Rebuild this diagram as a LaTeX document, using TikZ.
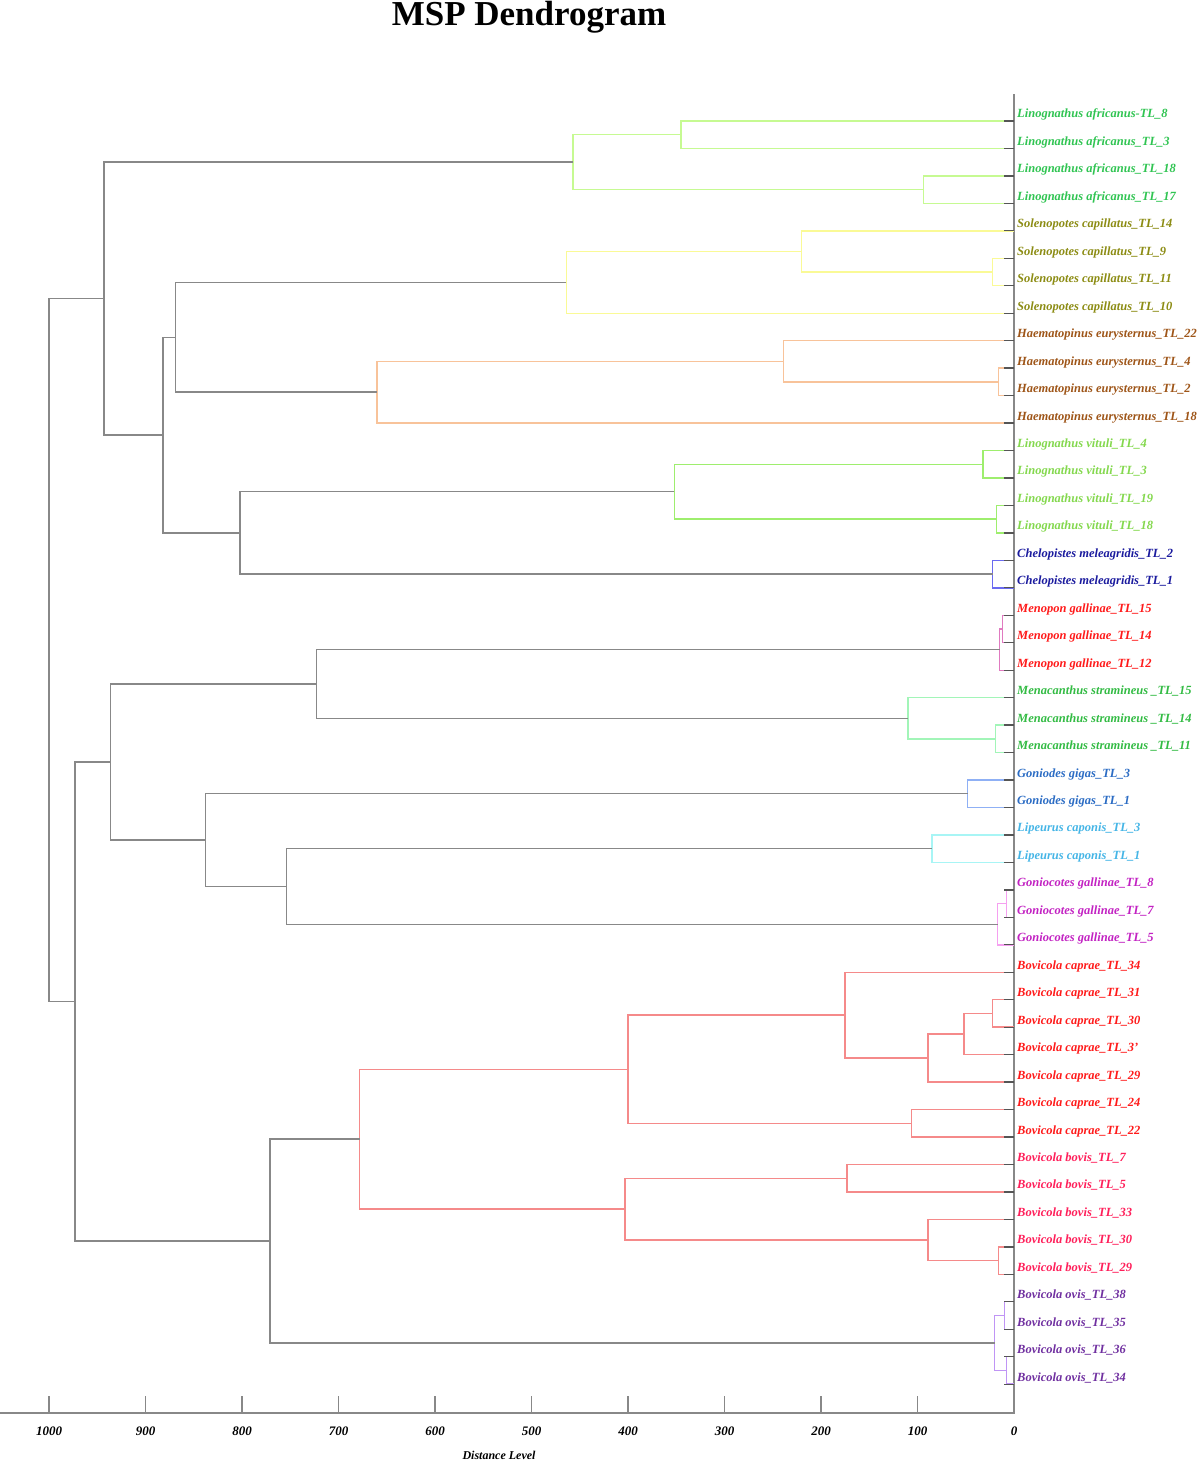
\documentclass[tikz,border=0pt]{standalone}
\usepackage{fontspec}
\setmainfont{Liberation Serif}

\definecolor{linkgrey}{HTML}{888888}
\definecolor{tickgrey}{HTML}{555555}
\definecolor{brAfr}{HTML}{C6FA92}
\definecolor{txAfr}{HTML}{30C452}
\definecolor{brSol}{HTML}{FAFA96}
\definecolor{txSol}{HTML}{8C8C14}
\definecolor{brHae}{HTML}{F8C39A}
\definecolor{txHae}{HTML}{9E5518}
\definecolor{brVit}{HTML}{9EEE6E}
\definecolor{txVit}{HTML}{84D84E}
\definecolor{brChe}{HTML}{6A6AF0}
\definecolor{txChe}{HTML}{1B1B9E}
\definecolor{brMpn}{HTML}{E07AC0}
\definecolor{txMpn}{HTML}{FF1A1A}
\definecolor{brMcn}{HTML}{A2F5B8}
\definecolor{txMcn}{HTML}{33BB44}
\definecolor{brGgi}{HTML}{8FB0F5}
\definecolor{txGgi}{HTML}{2B6CC4}
\definecolor{brLca}{HTML}{A8F5F5}
\definecolor{txLca}{HTML}{45B5E6}
\definecolor{brGco}{HTML}{F5A0F0}
\definecolor{txGco}{HTML}{C222C2}
\definecolor{brBov}{HTML}{F58A8A}
\definecolor{txBca}{HTML}{FF1A1A}
\definecolor{txBbo}{HTML}{FF1F5A}
\definecolor{brOvi}{HTML}{C095F5}
\definecolor{txOvi}{HTML}{7030A0}

\tikzset{
	branch/.style={draw=#1, line width=1.4pt},
	link/.style={branch=linkgrey},
	leaftick/.style={draw=tickgrey, line width=1.3pt, yshift=-0.7pt},
	axisline/.style={draw=linkgrey, line width=1.3pt},
	leaflab/.style={anchor=base west, inner sep=0pt, xshift=3pt, yshift=3pt,
		font=\fontsize{12.5}{15}\selectfont\bfseries\itshape},
	ticklab/.style={inner sep=0pt, font=\fontsize{13}{15}\selectfont\bfseries\itshape},
	axislab/.style={inner sep=0pt, font=\fontsize{12}{14}\selectfont\bfseries\itshape},
	titlelab/.style={anchor=base, inner sep=0pt, font=\fontsize{35}{40}\selectfont\bfseries}
}

\begin{document}
\begin{tikzpicture}[x=1pt,y=-1pt]
	\useasboundingbox (0,0) rectangle (1200,1461);
	\node[titlelab] (title) at (529,26) {MSP Dendrogram};
	
	% distance axis
	\draw[axisline] (0,1413) -- (1014,1413) -- (1014,94);
	\foreach \d in {100,200,...,1000} \draw[axisline] ({1014-0.965*\d},1413) -- ++(0,-17);
	\foreach \d in {0,100,...,1000} \node[ticklab] (tick\d) at ({1014-0.965*\d},1431) {\d};
	\node[axislab] (axtitle) at (499,1455) {Distance Level};
	
	\begin{scope}[shift={(1014,121)}, x=-0.965pt, y=-27.46pt]
	\foreach \i in {0,...,46} \coordinate (l\i) at (0,\i);
	
	% merge points (distance, mean leaf row)
	\coordinate (afr1) at (345,0.5);
	\coordinate (afr2) at (94,2.5);
	\coordinate (afrR) at (457,1.5);
	\coordinate (sol1) at (22,5.5);
	\coordinate (sol2) at (220,4.75);
	\coordinate (solR) at (464,5.875);
	\coordinate (hae1) at (16,9.5);
	\coordinate (hae2) at (239,8.75);
	\coordinate (haeR) at (660,9.875);
	\coordinate (vit1) at (32,12.5);
	\coordinate (vit2) at (18,14.5);
	\coordinate (vitR) at (352,13.5);
	\coordinate (cheR) at (22,16.5);
	\coordinate (mpn1) at (12,18.5);
	\coordinate (mpnR) at (15,19.25);
	\coordinate (mcn1) at (19,22.5);
	\coordinate (mcnR) at (110,21.75);
	\coordinate (ggiR) at (48,24.5);
	\coordinate (lcaR) at (85,26.5);
	\coordinate (gco1) at (8,28.5);
	\coordinate (gcoR) at (17,29.25);
	\coordinate (bca1) at (22,32.5);
	\coordinate (bca2) at (52,33.25);
	\coordinate (bca3) at (89,34.125);
	\coordinate (bca4) at (175,32.5625);
	\coordinate (bca5) at (106,36.5);
	\coordinate (bcaR) at (400,34.53125);
	\coordinate (bbo1) at (173,38.5);
	\coordinate (bbo2) at (16,41.5);
	\coordinate (bbo3) at (89,40.75);
	\coordinate (bboR) at (403,39.625);
	\coordinate (bovR) at (678,37.078);
	\coordinate (ovi1) at (10,43.5);
	\coordinate (ovi2) at (8,45.5);
	\coordinate (oviR) at (20,44.5);
	% joins between groups
	\coordinate (j1) at (869,7.875);
	\coordinate (j2) at (802,15);
	\coordinate (j3) at (882,11.4375);
	\coordinate (j4) at (943,6.46875);
	\coordinate (j5) at (723,20.5);
	\coordinate (j6) at (754,27.875);
	\coordinate (j7) at (838,26.1875);
	\coordinate (j8) at (936,23.34375);
	\coordinate (j9) at (771,40.789);
	\coordinate (j10) at (973,32.066);
	\coordinate (root) at (1000,19.267);
	
	% coloured groups
	\draw[branch=brAfr] (l0) -| (afr1) |- (l1);
	\draw[branch=brAfr] (l2) -| (afr2) |- (l3);
	\draw[branch=brAfr] (afr1) -| (afrR) |- (afr2);
	\draw[branch=brSol] (l5) -| (sol1) |- (l6);
	\draw[branch=brSol] (l4) -| (sol2) |- (sol1);
	\draw[branch=brSol] (sol2) -| (solR) |- (l7);
	\draw[branch=brHae] (l9) -| (hae1) |- (l10);
	\draw[branch=brHae] (l8) -| (hae2) |- (hae1);
	\draw[branch=brHae] (hae2) -| (haeR) |- (l11);
	\draw[branch=brVit] (l12) -| (vit1) |- (l13);
	\draw[branch=brVit] (l14) -| (vit2) |- (l15);
	\draw[branch=brVit] (vit1) -| (vitR) |- (vit2);
	\draw[branch=brChe] (l16) -| (cheR) |- (l17);
	\draw[branch=brMpn] (l18) -| (mpn1) |- (l19);
	\draw[branch=brMpn] (mpn1) -| (mpnR) |- (l20);
	\draw[branch=brMcn] (l22) -| (mcn1) |- (l23);
	\draw[branch=brMcn] (l21) -| (mcnR) |- (mcn1);
	\draw[branch=brGgi] (l24) -| (ggiR) |- (l25);
	\draw[branch=brLca] (l26) -| (lcaR) |- (l27);
	\draw[branch=brGco] (l28) -| (gco1) |- (l29);
	\draw[branch=brGco] (gco1) -| (gcoR) |- (l30);
	\draw[branch=brBov] (l32) -| (bca1) |- (l33);
	\draw[branch=brBov] (bca1) -| (bca2) |- (l34);
	\draw[branch=brBov] (bca2) -| (bca3) |- (l35);
	\draw[branch=brBov] (l31) -| (bca4) |- (bca3);
	\draw[branch=brBov] (l36) -| (bca5) |- (l37);
	\draw[branch=brBov] (bca4) -| (bcaR) |- (bca5);
	\draw[branch=brBov] (l38) -| (bbo1) |- (l39);
	\draw[branch=brBov] (l41) -| (bbo2) |- (l42);
	\draw[branch=brBov] (l40) -| (bbo3) |- (bbo2);
	\draw[branch=brBov] (bbo1) -| (bboR) |- (bbo3);
	\draw[branch=brBov] (bcaR) -| (bovR) |- (bboR);
	\draw[branch=brOvi] (l43) -| (ovi1) |- (l44);
	\draw[branch=brOvi] (l45) -| (ovi2) |- (l46);
	\draw[branch=brOvi] (ovi1) -| (oviR) |- (ovi2);
	
	% grey joins
	\draw[link] (solR) -| (j1) |- (haeR);
	\draw[link] (vitR) -| (j2) |- (cheR);
	\draw[link] (j1) -| (j3) |- (j2);
	\draw[link] (afrR) -| (j4) |- (j3);
	\draw[link] (mpnR) -| (j5) |- (mcnR);
	\draw[link] (lcaR) -| (j6) |- (gcoR);
	\draw[link] (ggiR) -| (j7) |- (j6);
	\draw[link] (j5) -| (j8) |- (j7);
	\draw[link] (bovR) -| (j9) |- (oviR);
	\draw[link] (j8) -| (j10) |- (j9);
	\draw[link] (j4) -| (root) |- (j10);
	
	\foreach \i in {0,...,46} \draw[leaftick] (l\i) -- ++(10,0);
	
	% leaf labels
	\node[leaflab, txAfr] (t0) at (l0) {Linognathus africanus-TL\_8};
	\node[leaflab, txAfr] (t1) at (l1) {Linognathus africanus\_TL\_3};
	\node[leaflab, txAfr] (t2) at (l2) {Linognathus africanus\_TL\_18};
	\node[leaflab, txAfr] (t3) at (l3) {Linognathus africanus\_TL\_17};
	\node[leaflab, txSol] (t4) at (l4) {Solenopotes capillatus\_TL\_14};
	\node[leaflab, txSol] (t5) at (l5) {Solenopotes capillatus\_TL\_9};
	\node[leaflab, txSol] (t6) at (l6) {Solenopotes capillatus\_TL\_11};
	\node[leaflab, txSol] (t7) at (l7) {Solenopotes capillatus\_TL\_10};
	\node[leaflab, txHae] (t8) at (l8) {Haematopinus eurysternus\_TL\_22};
	\node[leaflab, txHae] (t9) at (l9) {Haematopinus eurysternus\_TL\_4};
	\node[leaflab, txHae] (t10) at (l10) {Haematopinus eurysternus\_TL\_2};
	\node[leaflab, txHae] (t11) at (l11) {Haematopinus eurysternus\_TL\_18};
	\node[leaflab, txVit] (t12) at (l12) {Linognathus vituli\_TL\_4};
	\node[leaflab, txVit] (t13) at (l13) {Linognathus vituli\_TL\_3};
	\node[leaflab, txVit] (t14) at (l14) {Linognathus vituli\_TL\_19};
	\node[leaflab, txVit] (t15) at (l15) {Linognathus vituli\_TL\_18};
	\node[leaflab, txChe] (t16) at (l16) {Chelopistes meleagridis\_TL\_2};
	\node[leaflab, txChe] (t17) at (l17) {Chelopistes meleagridis\_TL\_1};
	\node[leaflab, txMpn] (t18) at (l18) {Menopon gallinae\_TL\_15};
	\node[leaflab, txMpn] (t19) at (l19) {Menopon gallinae\_TL\_14};
	\node[leaflab, txMpn] (t20) at (l20) {Menopon gallinae\_TL\_12};
	\node[leaflab, txMcn] (t21) at (l21) {Menacanthus stramineus \_TL\_15};
	\node[leaflab, txMcn] (t22) at (l22) {Menacanthus stramineus \_TL\_14};
	\node[leaflab, txMcn] (t23) at (l23) {Menacanthus stramineus \_TL\_11};
	\node[leaflab, txGgi] (t24) at (l24) {Goniodes gigas\_TL\_3};
	\node[leaflab, txGgi] (t25) at (l25) {Goniodes gigas\_TL\_1};
	\node[leaflab, txLca] (t26) at (l26) {Lipeurus caponis\_TL\_3};
	\node[leaflab, txLca] (t27) at (l27) {Lipeurus caponis\_TL\_1};
	\node[leaflab, txGco] (t28) at (l28) {Goniocotes gallinae\_TL\_8};
	\node[leaflab, txGco] (t29) at (l29) {Goniocotes gallinae\_TL\_7};
	\node[leaflab, txGco] (t30) at (l30) {Goniocotes gallinae\_TL\_5};
	\node[leaflab, txBca] (t31) at (l31) {Bovicola caprae\_TL\_34};
	\node[leaflab, txBca] (t32) at (l32) {Bovicola caprae\_TL\_31};
	\node[leaflab, txBca] (t33) at (l33) {Bovicola caprae\_TL\_30};
	\node[leaflab, txBca] (t34) at (l34) {Bovicola caprae\_TL\_3'};
	\node[leaflab, txBca] (t35) at (l35) {Bovicola caprae\_TL\_29};
	\node[leaflab, txBca] (t36) at (l36) {Bovicola caprae\_TL\_24};
	\node[leaflab, txBca] (t37) at (l37) {Bovicola caprae\_TL\_22};
	\node[leaflab, txBbo] (t38) at (l38) {Bovicola bovis\_TL\_7};
	\node[leaflab, txBbo] (t39) at (l39) {Bovicola bovis\_TL\_5};
	\node[leaflab, txBbo] (t40) at (l40) {Bovicola bovis\_TL\_33};
	\node[leaflab, txBbo] (t41) at (l41) {Bovicola bovis\_TL\_30};
	\node[leaflab, txBbo] (t42) at (l42) {Bovicola bovis\_TL\_29};
	\node[leaflab, txOvi] (t43) at (l43) {Bovicola ovis\_TL\_38};
	\node[leaflab, txOvi] (t44) at (l44) {Bovicola ovis\_TL\_35};
	\node[leaflab, txOvi] (t45) at (l45) {Bovicola ovis\_TL\_36};
	\node[leaflab, txOvi] (t46) at (l46) {Bovicola ovis\_TL\_34};
	\end{scope}
\end{tikzpicture}
\end{document}
